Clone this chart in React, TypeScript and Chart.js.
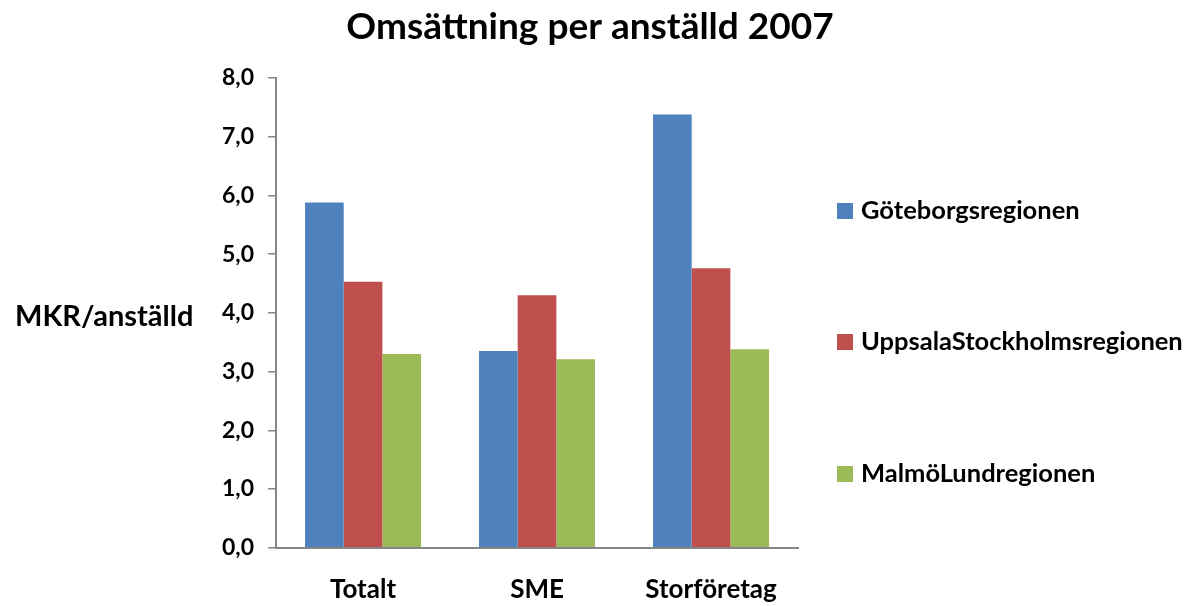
import React, { useEffect, useRef } from "react";
import { Chart, registerables } from "chart.js";

Chart.register(...registerables);

const categories = ["Totalt", "SME", "Storföretag"];
const seriesNames = ["Göteborgsregionen", "UppsalaStockholmsregionen", "MalmöLundregionen"];
const goteborg = [5.88, 3.35, 7.38];
const uppsalaStockholm = [4.53, 4.30, 4.76];
const malmoLund = [3.30, 3.21, 3.38];
const seriesColors = ["#4F81BD", "#C0504D", "#9BBB59"];
const titleText = "Omsättning per anställd 2007";
const yTitleText = "MKR/anställd";

const FONT = "Lato, 'Open Sans', sans-serif";

const customPlugin = {
  id: "customText",
  afterDraw(chart: any) {
    const ctx = chart.ctx;
    ctx.save();
    ctx.fillStyle = "#000";
    // title
    ctx.font = `bold 37px ${FONT}`;
    ctx.textAlign = "center";
    ctx.textBaseline = "middle";
    ctx.fillText(titleText, 590, 27);
    // y axis title (horizontal)
    ctx.font = `bold 29px ${FONT}`;
    ctx.textAlign = "left";
    ctx.fillText(yTitleText, 15, 317);
    // legend
    const ys = [211, 342, 474];
    chart.data.datasets.forEach((ds: any, i: number) => {
      ctx.fillStyle = ds.backgroundColor;
      ctx.fillRect(837, ys[i] - 8, 16, 16);
      ctx.fillStyle = "#000";
      ctx.font = `bold 25.5px ${FONT}`;
      ctx.textAlign = "left";
      ctx.textBaseline = "middle";
      ctx.fillText(ds.label, 861, ys[i]);
    });
    ctx.restore();
  },
};

export default function App() {
  const ref = useRef<HTMLCanvasElement>(null);
  useEffect(() => {
    document.body.style.margin = "0";
    const chart = new Chart(ref.current!, {
      type: "bar",
      data: {
        labels: categories,
        datasets: [
          { label: seriesNames[0], data: goteborg, backgroundColor: seriesColors[0] },
          { label: seriesNames[1], data: uppsalaStockholm, backgroundColor: seriesColors[1] },
          { label: seriesNames[2], data: malmoLund, backgroundColor: seriesColors[2] },
        ],
      },
      options: {
        animation: false,
        responsive: false,
        devicePixelRatio: 1,
        layout: { padding: { left: 208, right: 388, top: 78, bottom: -25 } },
        datasets: { bar: { categoryPercentage: 0.667, barPercentage: 1.0 } },
        plugins: {
          legend: { display: false },
          tooltip: { enabled: false },
          title: { display: false },
        },
        scales: {
          x: {
            grid: { display: false, drawTicks: false },
            border: { display: true, color: "#868686", width: 2 },
            ticks: {
              color: "#000",
              font: { family: FONT, size: 26, weight: "bold" },
              padding: 26,
              maxRotation: 0,
            },
          },
          y: {
            min: 0,
            max: 8,
            grid: { display: true, drawOnChartArea: false, drawTicks: true, tickLength: 8, color: "#868686", lineWidth: 1.5 },
            border: { display: true, color: "#868686", width: 2 },
            ticks: {
              stepSize: 1,
              color: "#000",
              padding: 14,
              font: { family: FONT, size: 23, weight: "bold" },
              callback: (v: any) => Number(v).toFixed(1).replace(".", ","),
            },
          },
        },
      },
      plugins: [customPlugin],
    });
    return () => chart.destroy();
  }, []);
  return <canvas ref={ref} width={1186} height={606} style={{ display: "block" }} />;
}
